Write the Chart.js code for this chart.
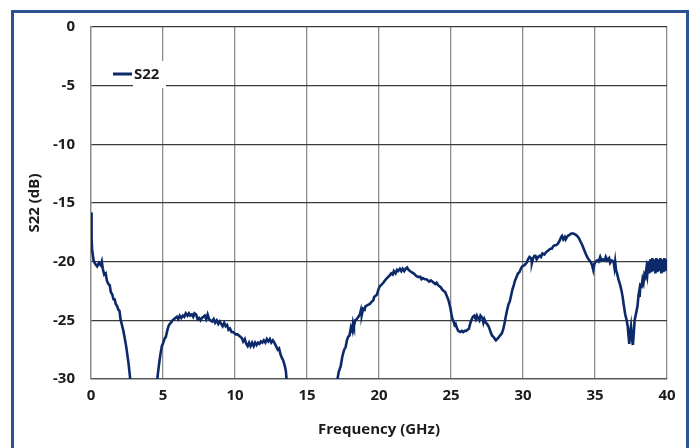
<!DOCTYPE html>
<html>
<head>
<meta charset="utf-8">
<script src="https://cdn.jsdelivr.net/npm/chart.js@4.4.1/dist/chart.umd.min.js"></script>
<style>
  html, body { margin: 0; padding: 0; background: #fff; }
  #wrap { position: relative; width: 693px; height: 448px; overflow: hidden; }
  #frame { position: absolute; left: 11px; top: 10px; width: 672px; height: 460px; border: 3px solid #2d5192; pointer-events: none; }
  canvas { position: absolute; left: 0; top: 0; }
</style>
</head>
<body>
<div id="wrap">
  <canvas id="chart" width="693" height="448"></canvas>
  <div id="frame"></div>
</div>
<script>
// S22 return loss vs frequency
const seriesName = 'S22';
const xTicks = [0, 5, 10, 15, 20, 25, 30, 35, 40];
const yTicks = [0, -5, -10, -15, -20, -25, -30];

// null marks the stretches where the trace drops below -30 dB (off the plot)
const freqGHz = [
  0, 0.04, 0.08, 0.18, 0.3, 0.43, 0.55, 0.68, 0.75, 0.82, 0.92, 1.02, 1.1, 1.2, 1.3, 1.38, 1.48, 1.56, 1.64, 1.72,
  1.82, 1.9, 1.98, 2.05, 2.15, 2.25, 2.34, 2.44, 2.52, 2.6, 2.68, 2.75,
  3.7,
  4.58, 4.65, 4.73, 4.82, 4.92, 5.02, 5.1, 5.2, 5.29, 5.38, 5.47, 5.56, 5.66, 5.76, 5.86, 5.96, 6.06, 6.16, 6.27, 6.38,
  6.48, 6.58, 6.7, 6.8, 6.89, 7.0, 7.1, 7.19, 7.3, 7.4, 7.5, 7.6, 7.7, 7.81, 7.9, 8.0, 8.1, 8.2, 8.3, 8.42, 8.52, 8.62,
  8.73, 8.84, 8.94, 9.04, 9.14, 9.25, 9.35, 9.45, 9.55, 9.65, 9.76, 9.86, 9.96, 10.06, 10.17, 10.27, 10.37, 10.47,
  10.57, 10.68, 10.78, 10.88, 10.98, 11.08, 11.19, 11.3, 11.4, 11.5, 11.6, 11.7, 11.8, 11.9, 12.0, 12.11, 12.21, 12.32,
  12.42, 12.52, 12.63, 12.73, 12.85, 12.97, 13.06, 13.16, 13.26, 13.34, 13.44, 13.53, 13.6,
  15,
  17.08, 17.2, 17.34, 17.45, 17.58, 17.68, 17.77, 17.86, 17.95, 18.05, 18.14, 18.2, 18.26, 18.35, 18.45, 18.57, 18.67,
  18.75, 18.81, 18.9, 19.0, 19.06, 19.2, 19.37, 19.5, 19.6, 19.67, 19.77, 19.86, 19.95, 20.05, 20.15, 20.3, 20.41,
  20.55, 20.72, 20.85, 20.95, 21.03, 21.15, 21.25, 21.33, 21.45, 21.55, 21.64, 21.75, 21.85, 21.95, 22.05, 22.15,
  22.26, 22.4, 22.5, 22.57, 22.7, 22.87, 22.95, 23.05, 23.18, 23.3, 23.4, 23.49, 23.6, 23.7, 23.8, 23.9, 24.0, 24.1,
  24.2, 24.3, 24.4, 24.5, 24.6, 24.7, 24.8, 24.87, 24.95, 25.02, 25.1, 25.18, 25.25, 25.32, 25.39, 25.5, 25.64, 25.75,
  25.85, 25.95, 26.05, 26.15, 26.25, 26.35, 26.44, 26.52, 26.62, 26.72, 26.8, 26.87, 26.97, 27.05, 27.18, 27.25,
  27.32, 27.42, 27.5, 27.6, 27.67, 27.75, 27.85, 27.95, 28.05, 28.12, 28.2, 28.28, 28.4, 28.53, 28.62, 28.71, 28.8,
  28.9, 29.0, 29.08, 29.17, 29.26, 29.36, 29.45, 29.55, 29.65, 29.75, 29.85, 29.94, 30.1, 30.25, 30.35, 30.45, 30.56,
  30.62, 30.7, 30.8, 30.86, 30.95, 31.05, 31.17, 31.25, 31.35, 31.48, 31.6, 31.7, 31.79, 31.9, 32.0, 32.09, 32.2,
  32.3, 32.4, 32.55, 32.65, 32.71, 32.8, 32.9, 32.96, 33.05, 33.12, 33.2, 33.35, 33.5, 33.65, 33.76, 33.88, 34.0,
  34.12, 34.25, 34.38, 34.5, 34.62, 34.74, 34.82, 34.88, 34.95, 35.05, 35.15, 35.25, 35.36, 35.45, 35.55, 35.67,
  35.75, 35.85, 35.98, 36.05, 36.15, 36.29, 36.35, 36.4, 36.46, 36.55, 36.65, 36.75, 36.83, 36.92, 37.01, 37.1, 37.2,
  37.27, 37.32, 37.38, 37.44, 37.5, 37.57, 37.63, 37.7, 37.75, 37.82, 37.87, 37.95, 38.02, 38.06, 38.1, 38.15, 38.24,
  38.3, 38.37, 38.43, 38.5, 38.57, 38.63, 38.7, 38.77, 38.84, 38.91, 38.98, 39.05, 39.12, 39.19, 39.26, 39.33, 39.4,
  39.47, 39.54, 39.61, 39.68, 39.75, 39.82, 39.89, 39.96, 40.0
];

const s22dB = [
  -15.8, -18.0, -19.0, -19.9, -20.2, -20.4, -20.1, -20.3, -20.0, -20.6, -21.1, -21.0, -21.6, -21.9, -22.0, -22.6, -22.8, -23.2, -23.2, -23.6,
  -23.8, -24.1, -24.2, -24.9, -25.4, -25.9, -26.5, -27.2, -27.9, -28.6, -29.5, -30.3,
  null,
  -30.3, -29.5, -28.7, -27.9, -27.2, -26.9, -26.6, -26.4, -25.9, -25.5, -25.3, -25.2, -25.0, -24.9, -24.8, -24.7, -24.9, -24.6, -24.8, -24.6,
  -24.7, -24.4, -24.6, -24.4, -24.6, -24.5, -24.7, -24.4, -24.5, -24.9, -24.8, -25.0, -24.8, -24.7, -24.6, -24.9, -24.5, -24.9, -25.0, -25.1, -24.9, -25.2,
  -25.0, -25.3, -25.1, -25.3, -25.5, -25.2, -25.5, -25.4, -25.8, -25.7, -26.0, -26.0, -26.1, -26.2, -26.2, -26.3, -26.4, -26.5,
  -26.8, -26.6, -27.0, -27.2, -26.9, -27.2, -26.9, -27.2, -26.9, -27.1, -26.9, -27.0, -26.8, -26.9, -26.7, -26.9, -26.6, -26.8,
  -26.6, -26.9, -26.7, -26.9, -27.2, -27.5, -27.4, -27.9, -28.2, -28.4, -28.8, -29.3, -30.3,
  null,
  -30.3, -29.4, -28.9, -28.1, -27.5, -27.3, -26.7, -26.4, -26.3, -25.6, -25.9, -25.2, -25.5, -25.0, -24.9, -24.7, -24.5,
  -24.1, -24.5, -24.0, -24.1, -23.8, -23.7, -23.6, -23.4, -23.3, -23.0, -22.9, -22.8, -22.4, -22.1, -22.0, -21.8, -21.6,
  -21.4, -21.2, -21.0, -21.1, -20.8, -21.0, -20.7, -20.8, -20.6, -20.8, -20.6, -20.8, -20.6, -20.5, -20.7, -20.8,
  -20.9, -21.0, -21.1, -21.2, -21.3, -21.3, -21.5, -21.4, -21.5, -21.5, -21.6, -21.7, -21.6, -21.7, -21.8, -21.9, -21.8, -22.0,
  -22.1, -22.2, -22.4, -22.5, -22.6, -22.9, -23.2, -23.5, -23.9, -24.4, -24.9, -25.1, -25.4, -25.3, -25.6, -25.9, -26.0, -25.9,
  -26.0, -25.9, -25.9, -25.8, -25.7, -25.2, -24.9, -24.7, -24.6, -24.9, -24.6, -24.8, -25.0, -24.6, -24.8, -25.2,
  -24.9, -25.2, -25.3, -25.5, -25.7, -26.0, -26.3, -26.4, -26.6, -26.7, -26.6, -26.5, -26.3, -26.1, -25.8, -25.3, -24.7,
  -24.1, -23.6, -23.4, -22.9, -22.4, -22.0, -21.6, -21.3, -21.0, -20.9, -20.6, -20.4, -20.3, -20.1, -19.8, -19.6, -19.7,
  -20.1, -19.7, -19.5, -19.5, -19.8, -19.6, -19.5, -19.6, -19.3, -19.4, -19.2, -19.1, -19.0, -18.9, -18.9, -18.7, -18.6,
  -18.6, -18.5, -18.2, -17.9, -17.8, -18.1, -17.9, -18.1, -17.9, -17.8, -17.75, -17.6, -17.6, -17.7, -17.8, -18.0, -18.3,
  -18.6, -19.0, -19.4, -19.7, -19.9, -20.1, -20.4, -20.7, -20.2, -20.0, -19.9, -20.0, -19.6, -19.9, -19.8, -19.9,
  -19.6, -19.9, -19.7, -20.1, -19.9, -20.0, -20.5, -20.0, -20.7, -21.1, -21.6, -22.0, -22.4, -23.0, -23.8, -24.5, -25.0,
  -25.5, -26.2, -27.0, -26.0, -25.5, -26.6, -27.1, -26.0, -25.0, -24.6, -24.3, -23.8, -22.9, -22.6, -23.0, -22.0, -22.1,
  -21.5, -21.8, -21.1, -21.3, -20.6, -21.1, -20.0, -21.0, -19.8, -20.9, -19.7, -20.8, -19.8, -21.0, -19.7, -20.9, -19.8,
  -20.8, -19.7, -21.0, -19.8, -20.9, -19.7, -20.8, -19.8, -20.7
];

const points = freqGHz.map((f, i) => ({ x: f, y: s22dB[i] }));

const textColor = '#1b1b1b';
const lineColor = '#0c2a6a';
const tickFont = { family: 'Open Sans', size: 15, weight: 'bold' };

// small legend drawn inside the plot, like the original
const innerLegend = {
  id: 'innerLegend',
  afterDraw(chart) {
    const ctx = chart.ctx;
    const ds = chart.data.datasets[0];
    ctx.save();
    ctx.fillStyle = '#fff';
    ctx.fillRect(133, 61, 33, 27);
    ctx.strokeStyle = ds.borderColor;
    ctx.lineWidth = 3;
    ctx.beginPath();
    ctx.moveTo(113, 74);
    ctx.lineTo(132, 74);
    ctx.stroke();
    ctx.fillStyle = textColor;
    ctx.font = 'bold 15px "Open Sans"';
    ctx.textBaseline = 'middle';
    ctx.fillText(ds.label, 134, 75);
    ctx.restore();
  }
};

new Chart(document.getElementById('chart'), {
  type: 'line',
  data: {
    datasets: [{
      label: seriesName,
      data: points,
      borderColor: lineColor,
      borderWidth: 2.6,
      pointRadius: 0,
      tension: 0,
      spanGaps: false,
      fill: false
    }]
  },
  options: {
    responsive: false,
    animation: false,
    events: [],
    layout: { padding: { left: 0, top: 27, right: 26, bottom: 0 } },
    plugins: { legend: { display: false }, tooltip: { enabled: false } },
    scales: {
      x: {
        type: 'linear',
        min: 0,
        max: 40,
        afterBuildTicks: axis => { axis.ticks = xTicks.map(v => ({ value: v })); },
        afterFit: axis => { axis.height = 69; },
        grid: { color: '#8c8c8c', lineWidth: 1.3, drawTicks: false },
        border: { color: '#555', width: 1.3 },
        ticks: { color: textColor, font: tickFont, padding: 8, maxRotation: 0 },
        title: {
          display: true,
          text: 'Frequency (GHz)',
          color: textColor,
          font: tickFont,
          padding: { top: 0, bottom: 9 }
        }
      },
      y: {
        min: -30,
        max: 0,
        afterBuildTicks: axis => { axis.ticks = yTicks.map(v => ({ value: v })); },
        afterFit: axis => { axis.width = 91; },
        grid: { color: '#3c3c3c', lineWidth: 1.3, drawTicks: false },
        border: { color: '#8c8c8c', width: 1.3 },
        ticks: { color: textColor, font: tickFont, padding: 16 },
        title: {
          display: true,
          text: 'S22 (dB)',
          color: textColor,
          font: tickFont,
          padding: { top: 26, bottom: 0 }
        }
      }
    }
  },
  plugins: [innerLegend]
});
</script>
</body>
</html>
